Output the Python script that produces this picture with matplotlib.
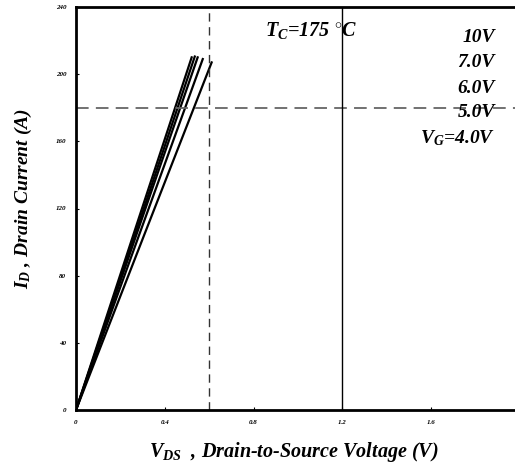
import matplotlib
matplotlib.use("Agg")
import matplotlib.pyplot as plt

plt.rcParams['font.family'] = ['Liberation Serif', 'DejaVu Serif']
plt.rcParams['mathtext.fontset'] = 'custom'
plt.rcParams['mathtext.it'] = 'Liberation Serif:italic:bold'
plt.rcParams['mathtext.rm'] = 'Liberation Serif:bold'
plt.rcParams['mathtext.bf'] = 'Liberation Serif:bold:italic'

# gate voltage curves, Tc = 175 C
gate_labels = ["10V", "7.0V", "6.0V", "5.0V", "4.0V"]
vds_curves = [
    [0.0, 0.26, 0.521],
    [0.0, 0.27, 0.535],
    [0.0, 0.275, 0.548],
    [0.0, 0.285, 0.571],
    [0.0, 0.305, 0.611],
]
id_curves = [
    [0.0, 105.0, 210.0],
    [0.0, 106.0, 210.5],
    [0.0, 105.5, 210.0],
    [0.0, 104.5, 209.0],
    [0.0, 103.5, 207.0],
]

x_ticks = [0, 0.4, 0.8, 1.2, 1.6, 2.0]
x_tick_labels = ["0", "0.4", "0.8", "1.2", "1.6", "2"]
y_ticks = [0, 40, 80, 120, 160, 200, 240]

vds_limit = 0.6
id_limit = 180
vds_rated = 1.2

fig = plt.figure(figsize=(5.15, 4.72), dpi=100)
ax = fig.add_axes([76/515, 62/472, 444/515, 403/472])

for v, i in zip(vds_curves, id_curves):
    ax.plot(v, i, color='black', lw=1.6)

ax.axvline(vds_limit, color='#333333', lw=1.0, ls=(0, (6, 4)))
ax.axhline(id_limit, color='#666666', lw=1.3, ls=(0, (7, 4)))
ax.axvline(vds_rated, color='black', lw=1.0)

ax.set_xlim(0, 2.0)
ax.set_ylim(0, 240)
ax.set_xticks(x_ticks)
ax.set_xticklabels(x_tick_labels)
ax.set_yticks(y_ticks)
for lab in ax.get_xticklabels() + ax.get_yticklabels():
    lab.set_fontsize(5)
    lab.set_fontstyle('italic')
    lab.set_fontweight('bold')
ax.tick_params(direction='in', length=2, width=0.8, pad=7)
for s in ax.spines.values():
    s.set_linewidth(2.0)

ax.set_xlabel(r"$V_{DS}$  , Drain-to-Source Voltage (V)", fontsize=14.5,
              fontweight='bold', fontstyle='italic')
ax.xaxis.set_label_coords(0.491, -0.074)
ax.set_ylabel(r"$I_{D}$ , Drain Current (A)", fontsize=14,
              fontweight='bold', fontstyle='italic')
ax.yaxis.set_label_coords(-0.095, 0.524)

ax.text(0.851, 226, r"$T_{C}$=175 $^{\circ}$C", fontsize=14.5, fontweight='bold',
        fontstyle='italic', va='center')
label_y = [222, 207, 191.5, 177, 162]
for k, (lab, yy) in enumerate(zip(gate_labels, label_y)):
    txt = lab if k < len(gate_labels) - 1 else r"$V_{G}$=" + lab
    ax.text(1.886, yy, txt, fontsize=14, fontweight='bold', fontstyle='italic',
            ha='right', va='center')

fig.savefig("out.png", dpi=100)
